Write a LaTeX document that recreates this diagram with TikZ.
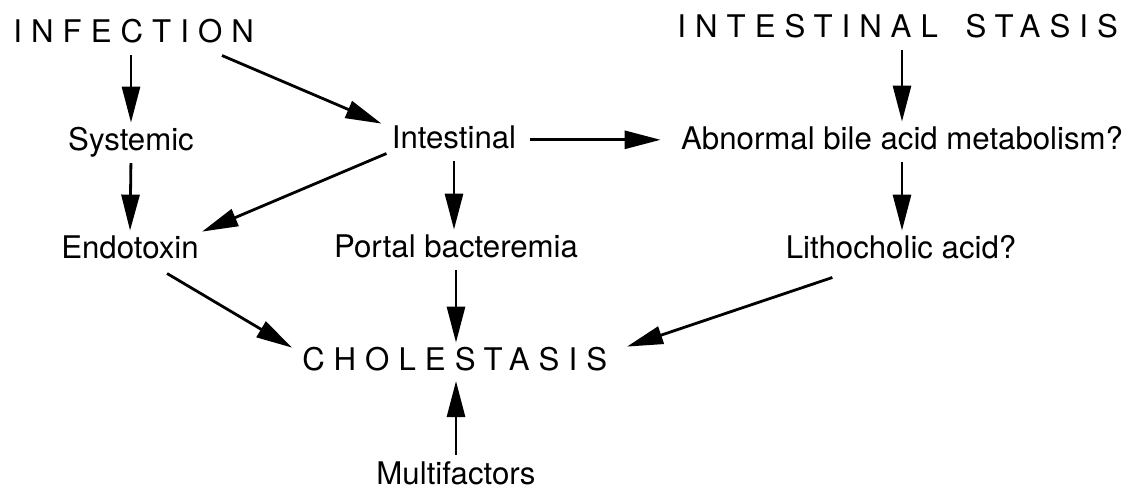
\documentclass[tikz,border=0pt]{standalone}
\usepackage{fontspec}
\setmainfont{TeX Gyre Heros}
\newfontfamily\spacedfont[LetterSpace=29]{TeX Gyre Heros}
\usepackage{tikz}
\usetikzlibrary{calc,arrows.meta}
\definecolor{ink}{RGB}{0,0,0}

\begin{document}
\begin{tikzpicture}[x=0.5pt,y=-0.5pt,
  lbl/.style={inner sep=0pt,text height=11.5pt,text depth=3.3pt,font=\fontsize{15.6}{18}\selectfont},
  caps/.style={lbl,font=\fontsize{15.6}{18}\spacedfont,anchor=base west},
  arr/.style={ink,line width=1.4pt,-{Triangle[length=18pt,width=9pt]}},
  gap/.style={shorten <=3pt,shorten >=2pt}]
\useasboundingbox (0,0) rectangle (1134,489);
\node[caps] (infection) at (13,42) {INFECTION};
\node[caps] (stasis) at (677,37) {INTESTINAL\hspace{5pt} STASIS};
\node[lbl,anchor=base] (systemic) at (131,150) {Systemic};
\node[lbl,anchor=base] (intestinal) at (454,148) {Intestinal};
\node[lbl,anchor=base] (abnormal) at (902,149) {Abnormal bile acid metabolism?};
\node[lbl,anchor=base] (endotoxin) at (130,258) {Endotoxin};
\node[lbl,anchor=base] (portal) at (456,257) {Portal bacteremia};
\node[lbl,anchor=base] (lithocholic) at (901,258) {Lithocholic acid?};
\node[caps] (cholestasis) at (302,370) {CHOLESTASIS};
\node[lbl,anchor=base] (multifactors) at (456,484) {Multifactors};
\draw[arr,gap] (infection.south -| systemic.north) -- (systemic.north);
\draw[arr] ($(infection.south west)+(209,6.5)$) -- ($(intestinal.north west)+(-10,-1)$);
\draw[arr,gap] (systemic.south) -- (endotoxin.north);
\draw[arr] ($(intestinal.south west)+(-5,-1.5)$) -- ($(endotoxin.north east)+(3,-3)$);
\draw[arr,gap] (intestinal.south) -- (intestinal.south |- portal.north);
\draw[arr,shorten <=6.5pt,shorten >=10pt] (intestinal.east) -- (intestinal.east -| abnormal.west);
\draw[arr,gap] (stasis.south -| abnormal.north) -- (abnormal.north);
\draw[arr,gap] (abnormal.south) -- (abnormal.south |- lithocholic.north);
\draw[arr] ($(endotoxin.south east)+(-32,8.5)$) -- ($(cholestasis.north west)+(-10,1)$);
\draw[arr,gap] (portal.south) -- (portal.south |- cholestasis.north);
\draw[arr] ($(lithocholic.south west)+(47,12.5)$) -- ($(cholestasis.north west)+(325,0)$);
\draw[arr,gap] (multifactors.north) -- (multifactors.north |- cholestasis.south);
\end{tikzpicture}
\end{document}
